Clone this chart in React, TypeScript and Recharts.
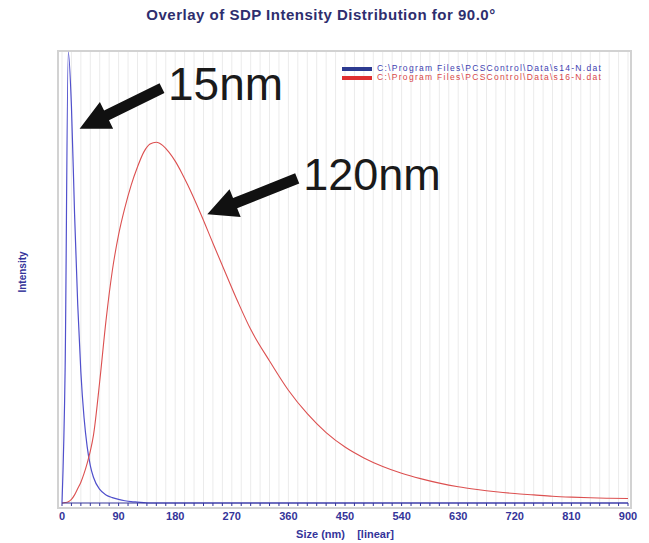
import { LineChart, Line, XAxis, YAxis, CartesianGrid, ReferenceLine } from 'recharts'

const sizes = [
  0, 5, 10, 15, 20, 25, 30, 35, 40, 45, 50, 60, 70, 80, 90, 100, 110, 120, 130, 140, 150, 160, 170, 180,
  190, 200, 220, 240, 260, 280, 300, 330, 360, 390, 420, 450, 480, 510, 540, 570, 600, 630, 660, 690,
  720, 750, 780, 810, 840, 870, 900,
]

// 15nm sample (blue)
const sample14 = [
  0, 30, 100, 88, 64, 44, 29, 19, 12.5, 8.3, 5.7, 3, 1.8, 1.2, 0.8, 0.5, 0.3, 0.2, 0.1, 0, 0, 0, 0, 0,
  0, 0, 0, 0, 0, 0, 0, 0, 0, 0, 0, 0, 0, 0, 0, 0, 0, 0, 0, 0, 0, 0, 0, 0, 0, 0, 0,
]

// 120nm sample (red)
const sample16 = [
  0, 0.1, 0.3, 0.8, 1.8, 3.2, 4.6, 6.5, 8.8, 11.5, 15, 27, 40.5, 51.5, 59.5, 65.5, 70.5, 74.5, 77.8,
  79.6, 80, 79.3, 77.8, 75.8, 73.3, 70.5, 64.3, 57.6, 51, 44.5, 38.5, 31.5, 25, 19.8, 15.6, 12.4, 10,
  8.1, 6.6, 5.4, 4.4, 3.6, 3, 2.5, 2.1, 1.8, 1.5, 1.3, 1.15, 1.05, 1.0,
]

const gridTicks = Array.from({ length: 61 }, (_, i) => i * 15)
const labelTicks = [0, 90, 180, 270, 360, 450, 540, 630, 720, 810, 900]

const seriesNames = [
  'C:\\Program Files\\PCSControl\\Data\\s14-N.dat',
  'C:\\Program Files\\PCSControl\\Data\\s16-N.dat',
]

const data = sizes.map((s, i) => ({ size: s, a: sample14[i], b: sample16[i] }))

const AXIS_BLUE = '#34349a'

const makeArrow = (text: string, fs: number) => (props: any) => {
  const { x1, y1, x2, y2 } = props
  const dx = x2 - x1
  const dy = y2 - y1
  const len = Math.sqrt(dx * dx + dy * dy)
  const ux = dx / len
  const uy = dy / len
  const nx = -uy
  const ny = ux
  const headLen = 30
  const headW = 15
  const shaftW = 5.5
  const bx = x2 - ux * headLen
  const by = y2 - uy * headLen
  const pts = [
    [x1 + nx * shaftW, y1 + ny * shaftW],
    [bx + nx * shaftW, by + ny * shaftW],
    [bx + nx * headW, by + ny * headW],
    [x2, y2],
    [bx - nx * headW, by - ny * headW],
    [bx - nx * shaftW, by - ny * shaftW],
    [x1 - nx * shaftW, y1 - ny * shaftW],
  ]
  return (
    <g>
      <polygon points={pts.map((p) => p.join(',')).join(' ')} fill='#111' />
      <text x={x1 + 6} y={y1 + 12} fontSize={fs} fontFamily='Liberation Sans, Arial' fill='#1a1a1a'>
        {text}
      </text>
    </g>
  )
}

const App = () => {
  return (
    <div style={{ position: 'absolute', left: 0, top: 0, width: 649, height: 543, background: '#fff', fontFamily: 'Liberation Sans, Arial' }}>
      {/* Title */}
      <div style={{ position: 'absolute', left: 0, width: 642, top: 6, textAlign: 'center', fontSize: 15, letterSpacing: 0.5, fontWeight: 'bold', color: '#2e2e6e' }}>
        Overlay of SDP Intensity Distribution for 90.0°
      </div>

      {/* plot frame */}
      <div style={{ position: 'absolute', left: 57, top: 50, width: 571, height: 455, border: '2px solid #d2d2d2' }} />

      <div style={{ position: 'absolute', left: 0, top: 0 }}>
        <LineChart width={649} height={543} data={data} margin={{ top: 52, right: 21, left: 62, bottom: 10 }}>
          <CartesianGrid horizontal={false} stroke='#ebebeb' />
          <XAxis
            dataKey='size'
            type='number'
            domain={[0, 900]}
            ticks={gridTicks}
            interval={0}
            height={30}
            tickSize={3}
            tickMargin={6}
            stroke={AXIS_BLUE}
            tick={{ fill: AXIS_BLUE, fontSize: 11, fontWeight: 'bold' }}
            tickFormatter={(v: number) => (labelTicks.includes(v) ? String(v) : '')}
          />
          <YAxis width={0} domain={[0, 100]} tick={false} tickLine={false} stroke='#5a5a8a' />
          <Line type='monotone' dataKey='a' stroke='#5050cc' strokeWidth={1.2} dot={false} isAnimationActive={false} />
          <Line type='monotone' dataKey='b' stroke='#dc5050' strokeWidth={1.1} dot={false} isAnimationActive={false} />
          <ReferenceLine segment={[{ x: 159, y: 92 }, { x: 28, y: 83 }]} shape={makeArrow('15nm', 46)} />
          <ReferenceLine segment={[{ x: 374, y: 72 }, { x: 231, y: 64 }]} shape={makeArrow('120nm', 45)} />
        </LineChart>
      </div>

      {/* Legend */}
      <div style={{ position: 'absolute', left: 342, top: 64, fontSize: 8.5, lineHeight: '9px', letterSpacing: 1.3 }}>
        {seriesNames.map((name, i) => (
          <div key={name} style={{ display: 'flex', alignItems: 'center', color: i === 0 ? '#4040b0' : '#d84848' }}>
            <span style={{ display: 'inline-block', width: 30, height: 4, background: i === 0 ? '#2c3a90' : '#e03030', marginRight: 5 }} />
            {name}
          </div>
        ))}
      </div>

      {/* Axis labels */}
      <div style={{ position: 'absolute', left: 0, width: 690, top: 528, textAlign: 'center', fontSize: 11, fontWeight: 'bold', color: AXIS_BLUE, whiteSpace: 'pre' }}>
        {'Size (nm)    [linear]'}
      </div>
      <div style={{ position: 'absolute', left: 22, top: 272, transform: 'translate(-50%, -50%) rotate(-90deg)', fontSize: 10, fontWeight: 'bold', color: AXIS_BLUE }}>
        Intensity
      </div>
    </div>
  )
}

export default App
